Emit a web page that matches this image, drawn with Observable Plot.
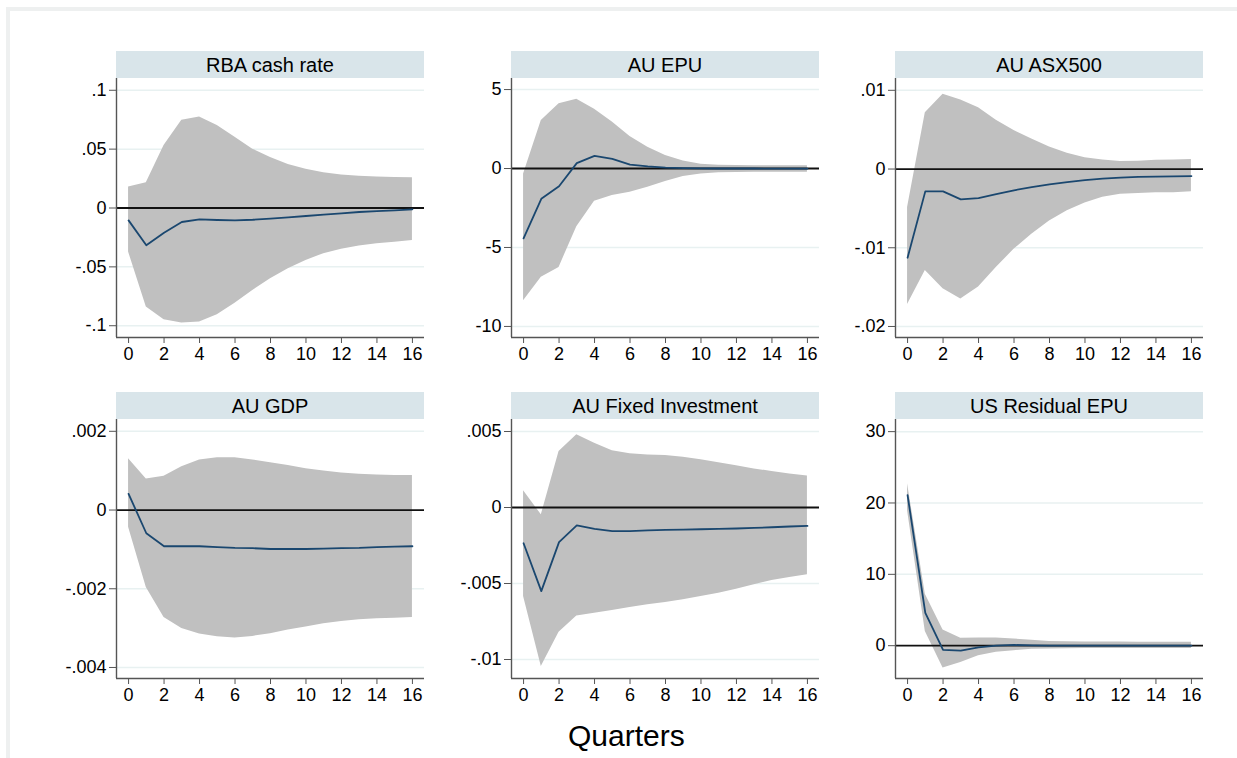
<!DOCTYPE html>
<html>
<head>
<meta charset="utf-8">
<script src="https://cdn.jsdelivr.net/npm/d3@7"></script>
<script src="https://cdn.jsdelivr.net/npm/@observablehq/plot@0.6"></script>
<style>
  html, body { margin: 0; padding: 0; background: #fff; }
  #root { position: relative; width: 1237px; height: 758px; overflow: hidden; font-family: "Liberation Sans", Arial, sans-serif; }
  #frame { position: absolute; left: 6px; top: 7px; width: 1240px; height: 760px; border-top: 4px solid #eef0f0; border-left: 4px solid #eef0f0; box-sizing: border-box; }
  .hdr { position: absolute; height: 27px; background: #d9e5ea; color: #000; font-size: 20px; line-height: 29px; text-align: center; }
  #xlabel { position: absolute; font-size: 30px; color: #000; }
</style>
</head>
<body>
<div id="root"><div id="frame"></div></div>
<script>
// ---------- data ----------
const quarters = [0,1,2,3,4,5,6,7,8,9,10,11,12,13,14,15,16];
const xTicks = [0,2,4,6,8,10,12,14,16];
const xDomain = [-0.68, 16.68];
const xAxisTitle = "Quarters";

const titles = ["RBA cash rate", "AU EPU", "AU ASX500", "AU GDP", "AU Fixed Investment", "US Residual EPU"];

// RBA cash rate
const rbaIrf = [-0.0105,-0.0317,-0.021,-0.0119,-0.0096,-0.0102,-0.0105,-0.0100,-0.0090,-0.0080,-0.0068,-0.0057,-0.0045,-0.0034,-0.0026,-0.0020,-0.0011];
const rbaHi  = [0.0178,0.0215,0.053,0.0745,0.0773,0.070,0.060,0.050,0.043,0.037,0.033,0.030,0.028,0.027,0.0263,0.026,0.0258];
const rbaLo  = [-0.0374,-0.084,-0.095,-0.0977,-0.0969,-0.0907,-0.081,-0.070,-0.060,-0.0516,-0.0445,-0.0388,-0.035,-0.0323,-0.0303,-0.029,-0.0275];
const rbaTicks = [0.1,0.05,0,-0.05,-0.1];
const rbaTickLabels = [".1",".05","0","-.05","-.1"];
const rbaDomain = [-0.11, 0.11];

// AU EPU
const epuIrf = [-4.42,-1.92,-1.12,0.34,0.80,0.61,0.25,0.13,0.06,0.03,0.01,0.0,0.0,0.0,-0.01,-0.01,-0.01];
const epuHi  = [-0.34,3.04,4.1,4.38,3.75,2.94,2.03,1.35,0.82,0.47,0.27,0.21,0.19,0.17,0.17,0.17,0.17];
const epuLo  = [-8.37,-6.89,-6.26,-3.68,-2.07,-1.71,-1.5,-1.18,-0.82,-0.51,-0.34,-0.27,-0.25,-0.23,-0.23,-0.23,-0.23];
const epuTicks = [5,0,-5,-10];
const epuTickLabels = ["5","0","-5","-10"];
const epuDomain = [-10.7, 5.7];

// AU ASX500
const asxIrf = [-0.01127,-0.00284,-0.00284,-0.00386,-0.00369,-0.0032,-0.0027,-0.0023,-0.00195,-0.00165,-0.0014,-0.00123,-0.0011,-0.0010,-0.00097,-0.00093,-0.00089];
const asxHi  = [-0.0049,0.00716,0.0095,0.00877,0.0078,0.0062,0.0049,0.0038,0.0028,0.0020,0.00144,0.00114,0.00097,0.0010,0.0011,0.00114,0.0012];
const asxLo  = [-0.0172,-0.0129,-0.0152,-0.0165,-0.0150,-0.0125,-0.0102,-0.0083,-0.0066,-0.0053,-0.0043,-0.0036,-0.0032,-0.0031,-0.0030,-0.0030,-0.0029];
const asxTicks = [0.01,0,-0.01,-0.02];
const asxTickLabels = [".01","0","-.01","-.02"];
const asxDomain = [-0.0214, 0.0115];

// AU GDP
const gdpIrf = [0.00041,-0.00059,-0.00092,-0.00092,-0.00092,-0.00094,-0.00096,-0.00097,-0.00099,-0.00099,-0.00099,-0.00098,-0.00097,-0.00096,-0.00094,-0.00093,-0.00092];
const gdpHi  = [0.0013,0.00079,0.00086,0.0011,0.00127,0.00133,0.00133,0.00127,0.0012,0.00113,0.00105,0.00099,0.00094,0.00091,0.00089,0.00088,0.00088];
const gdpLo  = [-0.00044,-0.00197,-0.00273,-0.00301,-0.00315,-0.00322,-0.00325,-0.00321,-0.00314,-0.00305,-0.00297,-0.00289,-0.00283,-0.00279,-0.00276,-0.00275,-0.00273];
const gdpTicks = [0.002,0,-0.002,-0.004];
const gdpTickLabels = [".002","0","-.002","-.004"];
const gdpDomain = [-0.00428, 0.0023];

// AU Fixed Investment
const invIrf = [-0.00235,-0.0055,-0.00228,-0.00118,-0.0014,-0.00156,-0.00156,-0.00151,-0.00147,-0.00145,-0.00143,-0.0014,-0.00138,-0.00134,-0.0013,-0.00125,-0.00121];
const invHi  = [0.0011,-0.00048,0.00368,0.00478,0.00423,0.00373,0.00353,0.00346,0.00342,0.00331,0.00314,0.00294,0.00274,0.00254,0.00237,0.00221,0.00208];
const invLo  = [-0.00586,-0.01046,-0.0082,-0.00713,-0.00695,-0.00678,-0.00658,-0.0064,-0.00625,-0.00607,-0.00586,-0.00564,-0.00537,-0.00509,-0.0048,-0.00461,-0.00443];
const invTicks = [0.005,0,-0.005,-0.01];
const invTickLabels = [".005","0","-.005","-.01"];
const invDomain = [-0.01125, 0.00579];

// US Residual EPU
const usIrf = [21.1,4.6,-0.6,-0.7,-0.23,0.0,0.1,0.05,0.02,0.01,0.01,0.0,0.0,0.0,0.0,0.0,0.0];
const usHi  = [22.7,7.2,2.2,1.03,1.07,1.07,0.93,0.75,0.6,0.56,0.5,0.5,0.5,0.49,0.48,0.48,0.48];
const usLo  = [18.9,2.0,-3.13,-2.34,-1.4,-0.93,-0.7,-0.51,-0.47,-0.42,-0.41,-0.4,-0.4,-0.39,-0.39,-0.38,-0.38];
const usTicks = [30,20,10,0];
const usTickLabels = ["30","20","10","0"];
const usDomain = [-4.6, 31.7];

// ---------- build ----------
const panels = [
  {irf: rbaIrf, hi: rbaHi, lo: rbaLo, ticks: rbaTicks, labels: rbaTickLabels, domain: rbaDomain},
  {irf: epuIrf, hi: epuHi, lo: epuLo, ticks: epuTicks, labels: epuTickLabels, domain: epuDomain},
  {irf: asxIrf, hi: asxHi, lo: asxLo, ticks: asxTicks, labels: asxTickLabels, domain: asxDomain},
  {irf: gdpIrf, hi: gdpHi, lo: gdpLo, ticks: gdpTicks, labels: gdpTickLabels, domain: gdpDomain},
  {irf: invIrf, hi: invHi, lo: invLo, ticks: invTicks, labels: invTickLabels, domain: invDomain},
  {irf: usIrf, hi: usHi, lo: usLo, ticks: usTicks, labels: usTickLabels, domain: usDomain}
];

const colLeft = [116, 511, 895];
const rowHeaderTop = [51, 392];
const plotW = 308, plotH = 259, hdrH = 27;
const mL = 60, mR = 0, mB = 40;
const tickFont = 18;

const root = document.getElementById("root");

panels.forEach((p, k) => {
  const col = k % 3, row = Math.floor(k / 3);
  const left = colLeft[col], top = rowHeaderTop[row];

  const hdr = document.createElement("div");
  hdr.className = "hdr";
  hdr.style.left = left + "px";
  hdr.style.top = top + "px";
  hdr.style.width = plotW + "px";
  hdr.textContent = titles[k];
  root.appendChild(hdr);

  const rows = quarters.map((q, i) => ({q, irf: p.irf[i], lo: p.lo[i], hi: p.hi[i]}));

  const chart = Plot.plot({
    width: mL + plotW + mR,
    height: plotH + mB,
    marginLeft: mL, marginRight: mR, marginTop: 0, marginBottom: mB,
    style: {fontFamily: '"Liberation Sans", Arial, sans-serif', fontSize: tickFont + "px", color: "#000", background: "transparent", overflow: "visible"},
    x: {domain: xDomain},
    y: {domain: p.domain},
    marks: [
      Plot.gridY(p.ticks.filter(t => t !== 0), {stroke: "#e8f1f1", strokeOpacity: 1, strokeWidth: 1.5}),
      Plot.areaY(rows, {x: "q", y1: "lo", y2: "hi", fill: "#c0c0c0", fillOpacity: 1}),
      Plot.ruleY([0], {stroke: "#111", strokeWidth: 1.8}),
      Plot.lineY(rows, {x: "q", y: "irf", stroke: "#1a476f", strokeWidth: 1.8}),
      Plot.ruleX([xDomain[0]], {stroke: "#555", strokeWidth: 1.4}),
      Plot.ruleY([p.domain[0]], {stroke: "#555", strokeWidth: 1.4}),
      Plot.axisY(p.ticks, {tickSize: 7, tickPadding: 3, stroke: "#555", fill: "#000", label: null, fontSize: tickFont,
        tickFormat: d => p.labels[p.ticks.indexOf(d)]}),
      Plot.axisX(xTicks, {tickSize: 6, tickPadding: 4, stroke: "#555", fill: "#000", label: null, fontSize: tickFont,
        tickFormat: d => String(d)})
    ]
  });
  chart.style.position = "absolute";
  chart.style.left = (left - mL) + "px";
  chart.style.top = (top + hdrH) + "px";
  root.appendChild(chart);
});

const xl = document.createElement("div");
xl.id = "xlabel";
xl.textContent = xAxisTitle;
xl.style.left = "568px";
xl.style.top = "719px";
root.appendChild(xl);
</script>
</body>
</html>
